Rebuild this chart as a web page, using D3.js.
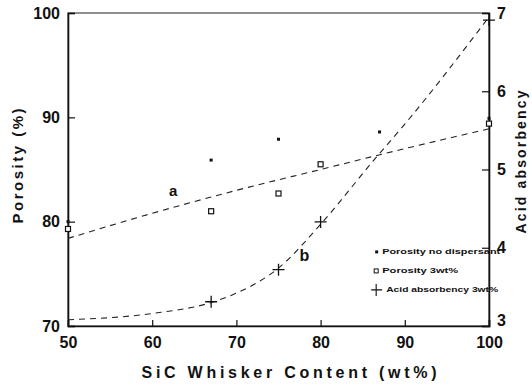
<!DOCTYPE html>
<html>
<head>
<meta charset="utf-8">
<script src="https://cdn.jsdelivr.net/npm/d3@7"></script>
<style>
  body { margin: 0; background: #fff; }
  svg text { font-family: "Liberation Sans", Arial, sans-serif; font-weight: bold; fill: #111; }
</style>
</head>
<body>
<div id="chart"></div>
<script>
// data
var contentTicks = [50, 60, 70, 80, 90, 100];
var porosityTicks = [70, 80, 90, 100];
var acidTicks = [3, 4, 5, 6, 7];

var noDispX = [50, 67, 75, 87, 100];
var noDispY = [80.0, 85.9, 87.9, 88.6, 89.9];

var sq3X = [50, 67, 75, 80, 100];
var sq3Y = [79.3, 81.0, 82.7, 85.5, 89.4];

var acidX = [67, 75, 80, 100];
var acidY = [3.31, 3.72, 4.33, 6.91];

// dashed fit curves
var fitPorX = [50, 60, 70, 80, 90, 100];
var fitPorY = [78.4, 80.8, 83.0, 85.0, 87.0, 88.9];

var fitAcidX = [50, 60, 67, 70, 75, 80, 86.4, 90, 100];
var fitAcidY = [3.08, 3.16, 3.30, 3.42, 3.74, 4.30, 5.13, 5.58, 6.95];

var legendLabels = ["Porosity no dispersant", "Porosity 3wt%", "Acid absorbency 3wt%"];

var W = 532, H = 386;
var margin = {left: 68, right: 43, top: 13, bottom: 60};
var width = W - margin.left - margin.right;
var height = H - margin.top - margin.bottom;

var svg = d3.select("#chart").append("svg")
  .attr("width", W).attr("height", H);

var g = svg.append("g").attr("transform", "translate(" + margin.left + "," + margin.top + ")");

var x = d3.scaleLinear().domain([50, 100]).range([0, width]);
var y = d3.scaleLinear().domain([70, 100]).range([height, 0]);
var y2 = d3.scaleLinear().domain([3, 7]).range([height, 0]);

// frame
g.append("rect").attr("x", 0).attr("y", 0).attr("width", width).attr("height", height)
  .attr("fill", "none").attr("stroke", "#555").attr("stroke-width", 1.3);

var xAxis = g.append("g").attr("transform", "translate(0," + height + ")")
  .call(d3.axisBottom(x).tickValues(contentTicks).tickSize(-6).tickPadding(8));
var yAxis = g.append("g")
  .call(d3.axisLeft(y).tickValues(porosityTicks).tickSize(-7).tickPadding(10));
var yAxis2 = g.append("g").attr("transform", "translate(" + width + ",0)")
  .call(d3.axisRight(y2).tickValues(acidTicks).tickFormat(d3.format("d")).tickSize(-7).tickPadding(8));

[xAxis, yAxis, yAxis2].forEach(function(a) {
  a.select(".domain").attr("stroke", "#111").attr("stroke-width", 1.6);
  a.selectAll(".tick line").attr("stroke", "#111").attr("stroke-width", 1.2);
  a.selectAll(".tick text").style("font-size", "16px").attr("fill", "#111");
});
xAxis.selectAll(".tick text").attr("dy", "0.9em");
yAxis.selectAll(".tick text").attr("dx", "2px");
yAxis2.select(".tick:first-of-type text").attr("dy", "-0.05em");

// fit curves
var lineP = d3.line().x(function(d) { return x(d[0]); }).y(function(d) { return y(d[1]); })
  .curve(d3.curveMonotoneX);
var lineA = d3.line().x(function(d) { return x(d[0]); }).y(function(d) { return y2(d[1]); })
  .curve(d3.curveMonotoneX);

g.append("path").datum(d3.zip(fitPorX, fitPorY)).attr("d", lineP)
  .attr("fill", "none").attr("stroke", "#222").attr("stroke-width", 1.1)
  .attr("stroke-dasharray", "6,5");
g.append("path").datum(d3.zip(fitAcidX, fitAcidY)).attr("d", lineA)
  .attr("fill", "none").attr("stroke", "#222").attr("stroke-width", 1.1)
  .attr("stroke-dasharray", "6,5");

// porosity no dispersant: small dots
g.selectAll(".dot").data(d3.zip(noDispX, noDispY)).enter().append("rect")
  .attr("x", function(d) { return x(d[0]) - 1.5; })
  .attr("y", function(d) { return y(d[1]) - 1.5; })
  .attr("width", 3).attr("height", 3).attr("fill", "#111");

// porosity 3wt%: small squares
g.selectAll(".sq").data(d3.zip(sq3X, sq3Y)).enter().append("rect")
  .attr("x", function(d) { return x(d[0]) - 2.5; })
  .attr("y", function(d) { return y(d[1]) - 2.5; })
  .attr("width", 5).attr("height", 5)
  .attr("fill", "#fff").attr("stroke", "#111").attr("stroke-width", 1.2);

// acid absorbency: plus marks
g.selectAll(".pl").data(d3.zip(acidX, acidY)).enter().append("path")
  .attr("d", function(d) {
    var cx = x(d[0]), cy = y2(d[1]);
    return "M" + (cx - 6) + "," + cy + "H" + (cx + 6) + "M" + cx + "," + (cy - 6) + "V" + (cy + 6);
  })
  .attr("stroke", "#111").attr("stroke-width", 1.3);

// curve labels
g.append("text").attr("x", x(62)).attr("y", y(82.5)).text("a").style("font-size", "15px");
g.append("text").attr("x", x(77.5)).attr("y", y2(3.83)).text("b").style("font-size", "16px");

// legend
var leg = g.append("g").attr("transform", "translate(" + (x(86.6)) + "," + (y(77.1)) + ")");
var legW = [118, 76, 112];
legendLabels.forEach(function(t, i) {
  var ly = i * 19;
  if (i === 0) leg.append("rect").attr("x", -1).attr("y", ly - 1.5).attr("width", 3).attr("height", 3).attr("fill", "#111");
  if (i === 1) leg.append("rect").attr("x", -2).attr("y", ly - 2).attr("width", 4).attr("height", 4)
    .attr("fill", "#fff").attr("stroke", "#111").attr("stroke-width", 1);
  if (i === 2) leg.append("path").attr("d", "M-5," + ly + "H6M0," + (ly - 6) + "V" + (ly + 6))
    .attr("stroke", "#111").attr("stroke-width", 1.1);
  leg.append("text").attr("x", i === 2 ? 10 : 6).attr("y", ly + 2.5)
    .attr("textLength", legW[i]).attr("lengthAdjust", "spacingAndGlyphs")
    .style("font-size", "7px").text(t);
});

// axis titles
svg.append("text").attr("transform", "translate(23,166) rotate(-90)")
  .attr("text-anchor", "middle").style("font-size", "15px")
  .attr("textLength", 115).attr("lengthAdjust", "spacing")
  .text("Porosity  (%)");
svg.append("text").attr("transform", "translate(526,162) rotate(-90)")
  .attr("text-anchor", "middle").style("font-size", "14px")
  .attr("textLength", 143).attr("lengthAdjust", "spacing")
  .text("Acid absorbency");
svg.append("text").attr("x", 289).attr("y", 378)
  .attr("text-anchor", "middle").style("font-size", "16px")
  .attr("textLength", 295).attr("lengthAdjust", "spacing")
  .text("SiC Whisker Content  (wt%)");
</script>
</body>
</html>
